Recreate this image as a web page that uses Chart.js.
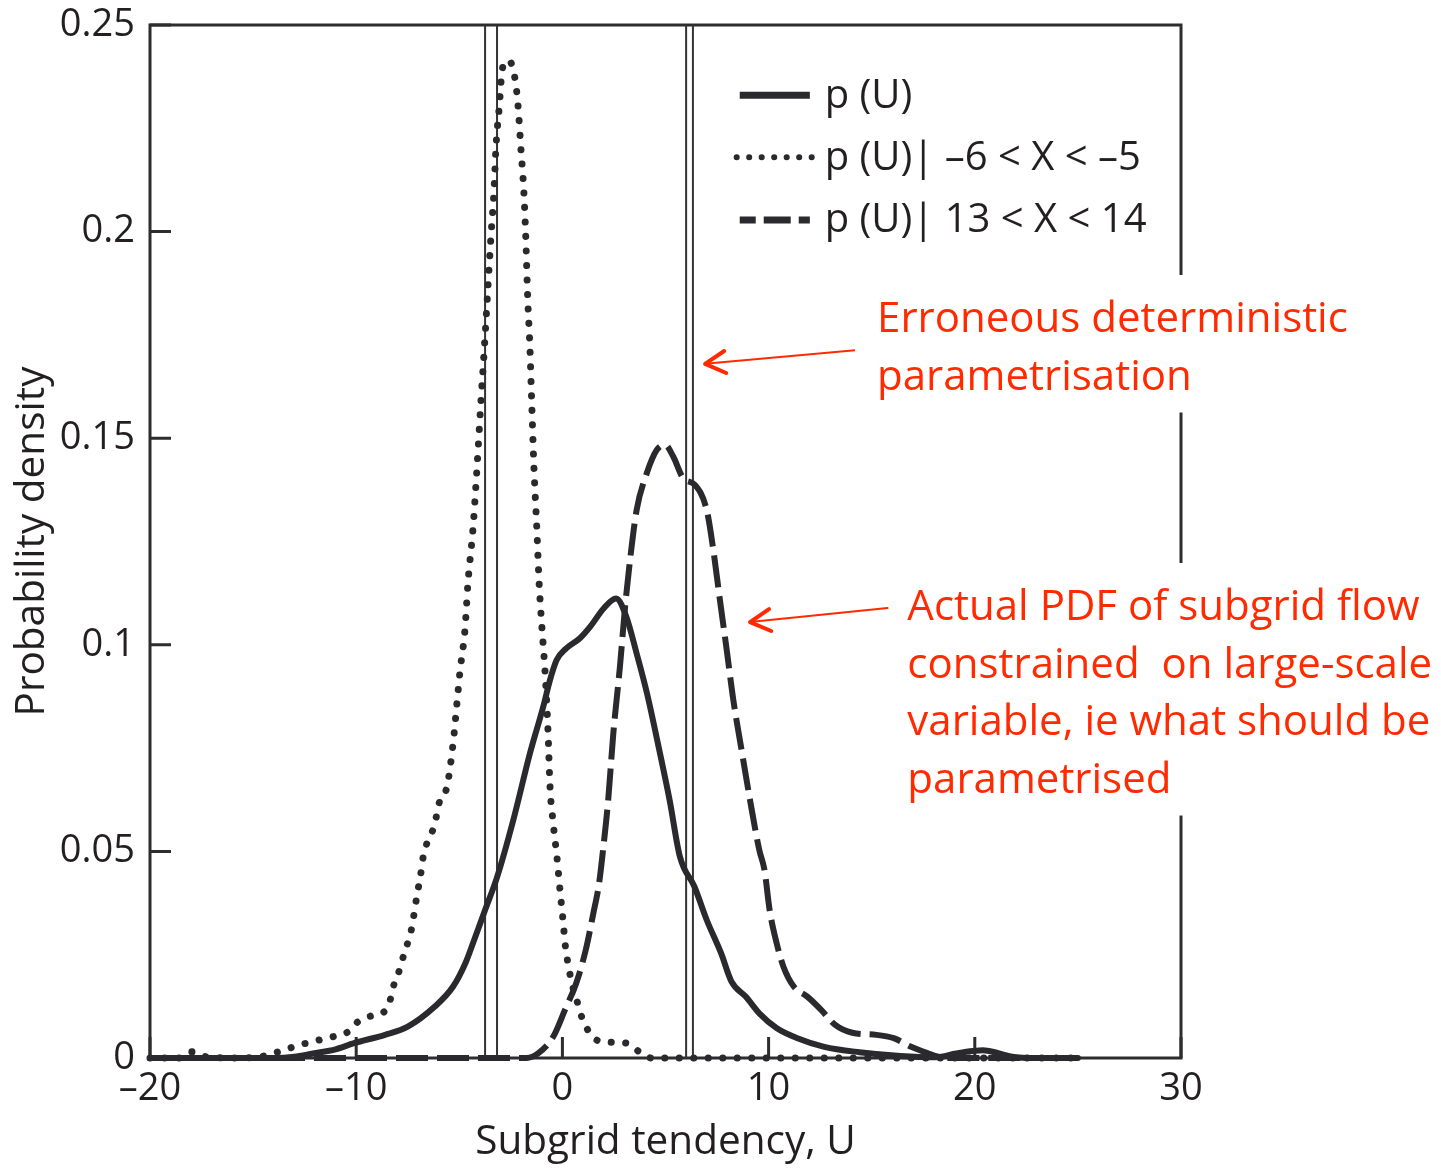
<!DOCTYPE html>
<html>
<head>
<meta charset="utf-8">
<script src="https://cdn.jsdelivr.net/npm/chart.js@4.4.1/dist/chart.umd.min.js"></script>
<style>
  html, body { margin: 0; padding: 0; background: #fff; }
  canvas { display: block; }
</style>
</head>
<body>
<canvas id="pdf" width="1441" height="1170"></canvas>
<script>
// p(U) : full pdf of subgrid tendency
const solidU = [-20, -16, -14, -13, -12.1, -11, -10.1, -8.6, -7.5, -6.2, -5.3, -4.7, -4.32, -3.75, -3.16, -2.38, -1.57, -0.93, -0.6, -0.28, 0.2, 0.85, 1.35, 2.0, 2.6, 3.1, 3.6, 4.1, 4.7, 5.2, 5.7, 6.4, 7.0, 7.7, 8.2, 8.9, 9.55, 10.4, 11.4, 12.7, 14.4, 16.4, 18.1, 19.1, 19.9, 20.4, 21.1, 21.8, 23, 25];
const solidP = [0, 0, 0, 0.0003, 0.0011, 0.0021, 0.0036, 0.0056, 0.0076, 0.0124, 0.0173, 0.023, 0.028, 0.0358, 0.0439, 0.0576, 0.0738, 0.085, 0.0915, 0.0963, 0.0992, 0.1016, 0.1044, 0.1088, 0.1112, 0.1068, 0.0979, 0.0883, 0.0745, 0.0624, 0.0487, 0.0415, 0.0334, 0.0253, 0.0185, 0.0148, 0.0108, 0.0072, 0.0048, 0.0027, 0.0014, 0.0005, 0.0002, 0.0011, 0.0017, 0.0019, 0.0012, 0.0003, 0, 0];

// p(U) | -6 < X < -5
const dotU = [-20, -18.6, -18, -17.4, -16, -14.45, -13.77, -13.1, -12.41, -11.76, -11.08, -10.37, -9.91, -9.26, -8.6, -8.33, -8.15, -7.9, -7.72, -7.49, -7.31, -7.09, -6.84, -6.75, -6.2, -5.94, -5.6, -5.3, -5.1, -4.97, -4.72, -4.58, -4.33, -4.14, -3.95, -3.79, -3.63, -3.46, -3.32, -3.22, -3.05, -2.95, -2.8, -2.6, -2.33, -2.16, -2.02, -1.87, -1.78, -1.69, -1.57, -1.5, -1.38, -1.23, -1.13, -0.99, -0.84, -0.7, -0.6, -0.45, -0.25, -0.12, 0.02, 0.15, 0.26, 0.39, 0.55, 0.77, 0.96, 1.27, 1.78, 2.47, 3.12, 3.73, 4.32, 10, 25];
const dotP = [0, 0, 0.0015, 0.0004, 0, 0.0005, 0.0015, 0.0026, 0.0036, 0.0044, 0.0052, 0.0064, 0.0088, 0.0102, 0.0114, 0.0144, 0.0181, 0.0213, 0.0245, 0.0281, 0.0314, 0.0382, 0.0455, 0.0487, 0.0565, 0.0624, 0.0656, 0.0762, 0.0866, 0.0934, 0.104, 0.115, 0.1285, 0.143, 0.159, 0.1713, 0.185, 0.1992, 0.2097, 0.2206, 0.231, 0.2379, 0.241, 0.2414, 0.2379, 0.231, 0.2206, 0.2097, 0.1992, 0.185, 0.1713, 0.1605, 0.143, 0.127, 0.115, 0.104, 0.0934, 0.0794, 0.0656, 0.057, 0.0479, 0.0408, 0.0338, 0.0268, 0.0232, 0.0197, 0.0163, 0.0128, 0.0096, 0.0065, 0.0041, 0.0038, 0.0036, 0.0015, 0, 0, 0];

// p(U) | 13 < X < 14
const dashU = [-20, -1.74, -1.18, -0.44, 0.12, 0.67, 1.13, 1.5, 1.78, 1.97, 2.22, 2.47, 2.79, 3.04, 3.28, 3.6, 4.09, 4.57, 4.98, 5.38, 5.86, 6.43, 7.0, 7.32, 7.64, 7.97, 8.29, 8.69, 9.1, 9.55, 9.8, 10.05, 10.39, 10.72, 11.22, 11.89, 12.56, 13.23, 14.06, 15.24, 16.07, 16.91, 17.75, 18.24, 18.6, 25];
const dashP = [0, 0, 0.0011, 0.0052, 0.0116, 0.0181, 0.0261, 0.035, 0.0423, 0.0503, 0.0624, 0.0786, 0.0947, 0.1092, 0.1205, 0.1326, 0.1415, 0.1471, 0.1484, 0.1455, 0.1403, 0.1387, 0.1326, 0.1229, 0.1108, 0.0987, 0.0866, 0.0745, 0.0624, 0.0503, 0.0455, 0.0358, 0.0278, 0.0221, 0.0173, 0.0148, 0.0116, 0.008, 0.0061, 0.0056, 0.0048, 0.0027, 0.0011, 0.0003, 0, 0];

// deterministic parametrisation lines (pairs)
const vlineU = [-3.75, -3.17, 6.0, 6.33];

const xTicks = [-20, -10, 0, 10, 20, 30];
const yTicks = [0, 0.05, 0.1, 0.15, 0.2, 0.25];

const legendLabels = ['p (U)', 'p (U)| \u20136 < X < \u20135', 'p (U)| 13 < X < 14'];

const ink = '#2a2a2e';
const red = '#ff2a00';
const fontFam = '"Open Sans", "Noto Sans", sans-serif';

const pts = (xs, ys) => xs.map((x, i) => ({ x: x, y: ys[i] }));

const curveBase = {
  borderColor: ink,
  pointRadius: 0,
  fill: false,
  clip: false,
  cubicInterpolationMode: 'monotone',
};

const datasets = [
  Object.assign({}, curveBase, { label: legendLabels[0], data: pts(solidU, solidP), borderWidth: 6, borderCapStyle: 'round', borderJoinStyle: 'round' }),
  Object.assign({}, curveBase, { label: legendLabels[1], data: pts(dotU, dotP), borderWidth: 7, borderDash: [0.1, 14.4], borderCapStyle: 'round' }),
  Object.assign({}, curveBase, { label: legendLabels[2], data: pts(dashU, dashP), borderWidth: 6, borderDash: [32, 9], borderCapStyle: 'butt' }),
];

vlineU.forEach(u => {
  datasets.push({
    label: '',
    data: [{ x: u, y: 0 }, { x: u, y: 0.25 }],
    borderColor: '#333',
    borderWidth: 2,
    pointRadius: 0,
    tension: 0,
    fill: false,
  });
});

// annotation blocks, positioned in data units
const notes = [
  { u: 15.26, p: 0.1757, lines: ['Erroneous deterministic', 'parametrisation'], arrowFrom: [14.19, 0.1713], arrowTo: [6.92, 0.168] },
  { u: 16.73, p: 0.106, lines: ['Actual PDF of subgrid flow', 'constrained  on large-scale', 'variable, ie what should be', 'parametrised'], arrowFrom: [15.77, 0.1089], arrowTo: [9.1, 0.1055] },
];

const framePlugin = {
  id: 'frame',
  beforeDatasetsDraw(chart) {
    const { ctx, chartArea: a, scales } = chart;
    ctx.save();
    ctx.strokeStyle = '#2d2d2d';
    ctx.lineWidth = 3;
    ctx.lineCap = 'square';
    ctx.strokeRect(a.left, a.top, a.right - a.left, a.bottom - a.top);
    ctx.beginPath();
    xTicks.forEach(v => {
      const px = scales.x.getPixelForValue(v);
      ctx.moveTo(px, a.bottom);
      ctx.lineTo(px, a.bottom - 21);
    });
    yTicks.forEach(v => {
      const py = scales.y.getPixelForValue(v);
      ctx.moveTo(a.left, py);
      ctx.lineTo(a.left + 21, py);
    });
    ctx.lineCap = 'butt';
    ctx.stroke();
    ctx.restore();
  }
};

function arrow(ctx, x0, y0, x1, y1) {
  ctx.beginPath();
  ctx.lineWidth = 2;
  ctx.moveTo(x0, y0);
  ctx.lineTo(x1, y1);
  ctx.stroke();
  const ang = Math.atan2(y1 - y0, x1 - x0);
  const len = 23, spread = 0.5;
  ctx.beginPath();
  ctx.lineWidth = 4;
  ctx.lineCap = 'round';
  ctx.lineJoin = 'round';
  ctx.moveTo(x1 - len * Math.cos(ang - spread), y1 - len * Math.sin(ang - spread));
  ctx.lineTo(x1, y1);
  ctx.lineTo(x1 - len * Math.cos(ang + spread), y1 - len * Math.sin(ang + spread));
  ctx.stroke();
}

const notesPlugin = {
  id: 'notes',
  afterDatasetsDraw(chart) {
    const { ctx, scales } = chart;
    const X = v => scales.x.getPixelForValue(v);
    const Y = v => scales.y.getPixelForValue(v);
    ctx.save();

    // legend
    const rows = [0.233, 0.218, 0.2028];
    const styles = [
      { w: 7, dash: [], cap: 'butt', off: 0, from: 8.6, to: 12.0 },
      { w: 6, dash: [0.1, 12.4], cap: 'round', off: 0, from: 8.45, to: 12.2 },
      { w: 7, dash: [27, 8], cap: 'butt', off: 11, from: 8.6, to: 12.0 },
    ];
    rows.forEach((p, i) => {
      const s = styles[i];
      ctx.beginPath();
      ctx.strokeStyle = ink;
      ctx.lineWidth = s.w;
      ctx.lineCap = s.cap;
      ctx.setLineDash(s.dash);
      ctx.lineDashOffset = s.off;
      ctx.moveTo(X(s.from), Y(p));
      ctx.lineTo(X(s.to), Y(p));
      ctx.stroke();
      ctx.setLineDash([]);
      ctx.fillStyle = '#231f20';
      ctx.font = '40px ' + fontFam;
      ctx.textBaseline = 'middle';
      ctx.textAlign = 'left';
      ctx.fillText(legendLabels[i], X(12.72), Y(p) + 1);
    });

    // red notes
    const fs = 42, step = 57.5;
    ctx.font = fs + 'px ' + fontFam;
    ctx.textBaseline = 'alphabetic';
    notes.forEach(n => {
      const x = X(n.u), y = Y(n.p);
      const w = Math.max(...n.lines.map(t => ctx.measureText(t).width));
      ctx.fillStyle = '#fff';
      ctx.fillRect(x - 8, y - 57, w + 16, (n.lines.length - 1) * step + 80);
      ctx.fillStyle = red;
      n.lines.forEach((t, i) => ctx.fillText(t, x, y + i * step));
      ctx.strokeStyle = red;
      arrow(ctx, X(n.arrowFrom[0]), Y(n.arrowFrom[1]), X(n.arrowTo[0]), Y(n.arrowTo[1]));
    });
    ctx.restore();
  }
};

const tickFont = { family: fontFam, size: 38, lineHeight: 1.2 };
const titleFont = { family: fontFam, size: 40.5, lineHeight: 1.2 };

new Chart(document.getElementById('pdf').getContext('2d'), {
  type: 'line',
  data: { datasets: datasets },
  options: {
    responsive: false,
    animation: false,
    devicePixelRatio: 1,
    layout: { padding: { top: 25, right: 260, left: 0, bottom: 0 } },
    plugins: { legend: { display: false }, tooltip: { enabled: false } },
    scales: {
      x: {
        type: 'linear',
        min: -20,
        max: 30,
        border: { display: false },
        grid: { display: false, drawTicks: false },
        afterBuildTicks: s => { s.ticks = xTicks.map(v => ({ value: v })); },
        afterFit: s => { s.height = 112; s.paddingLeft = 0; s.paddingRight = 0; },
        ticks: {
          color: '#231f20',
          font: tickFont,
          padding: 8,
          maxRotation: 0,
          callback: v => (v < 0 ? '\u2013' + Math.abs(v) : String(v)),
        },
        title: {
          display: true,
          text: 'Subgrid tendency, U',
          color: '#231f20',
          font: titleFont,
          padding: { top: 0, bottom: 3 },
        },
      },
      y: {
        type: 'linear',
        min: 0,
        max: 0.25,
        border: { display: false },
        grid: { display: false, drawTicks: false },
        afterBuildTicks: s => { s.ticks = yTicks.map(v => ({ value: v })); },
        afterFit: s => { s.width = 150; s.paddingTop = 0; s.paddingBottom = 0; },
        ticks: {
          color: '#231f20',
          font: tickFont,
          padding: 15,
          callback: v => String(Number(v.toFixed(2))),
        },
        title: {
          display: true,
          text: 'Probability density',
          color: '#231f20',
          font: titleFont,
          padding: { top: 8, bottom: 0 },
        },
      },
    },
  },
  plugins: [framePlugin, notesPlugin],
});
</script>
</body>
</html>
